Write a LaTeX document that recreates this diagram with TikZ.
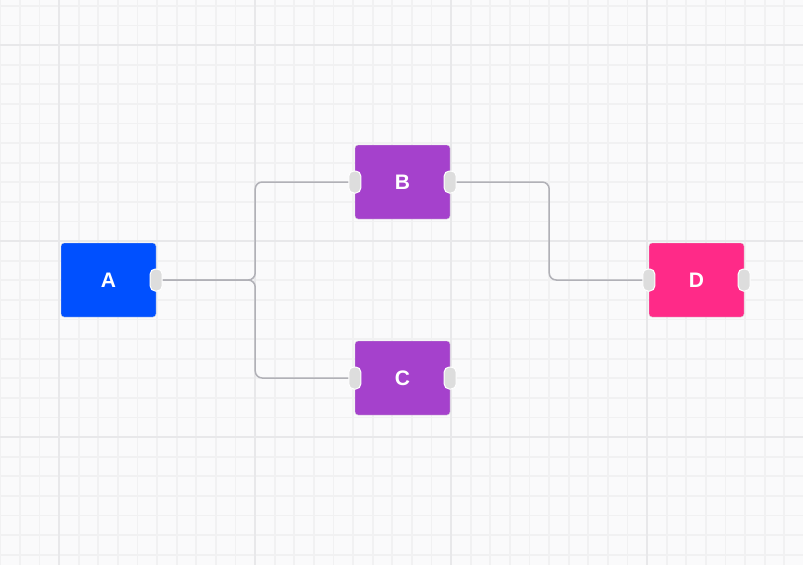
\documentclass[tikz,border=0pt]{standalone}
\usepackage{fontspec}
\setmainfont{Liberation Sans}
\usetikzlibrary{calc}
\definecolor{bgc}{HTML}{FAFAFB}
\definecolor{minorc}{HTML}{F1F1F2}
\definecolor{majorc}{HTML}{E8E8EA}
\definecolor{nodeA}{HTML}{0050FF}
\definecolor{nodeBC}{HTML}{A541CC}
\definecolor{nodeD}{HTML}{FF2A88}
\definecolor{edgec}{HTML}{B1B1B7}
\definecolor{handlec}{HTML}{DDDDDD}
\tikzset{
  flownode/.style={rectangle, rounded corners=3pt, minimum width=95pt, minimum height=74pt, inner sep=0pt, draw=white!85!black, line width=0.4pt, text=white, font=\bfseries\fontsize{21}{23}\selectfont},
  handle/.style={rectangle, rounded corners=5pt, minimum width=12pt, minimum height=22pt, inner sep=0pt, fill=handlec, draw=white, line width=1pt},
  link/.style={draw=edgec, line width=1.5pt, rounded corners=7pt}
}
\begin{document}
\begin{tikzpicture}[x=1pt,y=-1pt]
\useasboundingbox (0,0) rectangle (803,565);
\fill[bgc] (0,0) rectangle (803,565);
% minor grid
\foreach \i in {-3,...,37} {
  \draw[minorc, line width=1.8pt] ({59+19.6*\i},0) -- ({59+19.6*\i},565);
}
\foreach \i in {-3,...,27} {
  \draw[minorc, line width=1.8pt] (0,{45+19.6*\i}) -- (803,{45+19.6*\i});
}
% major grid
\foreach \i in {0,...,3} {
  \draw[majorc, line width=2.8pt] ({59+196*\i},0) -- ({59+196*\i},565);
}
\foreach \i in {0,...,2} {
  \draw[majorc, line width=2.8pt] (0,{45+196*\i}) -- (803,{45+196*\i});
}
% nodes
\node[flownode, fill=nodeA] (A) at (108.5,280) {A};
\node[flownode, fill=nodeBC] (B) at (402.5,182) {B};
\node[flownode, fill=nodeBC] (C) at (402.5,378) {C};
\node[flownode, fill=nodeD] (D) at (696.5,280) {D};
% connectors
\draw[link] (A.east) -- ++(99,0) |- (B.west);
\draw[link] (A.east) -- ++(99,0) |- (C.west);
\draw[link] (B.east) -- ++(99,0) |- (D.west);
% handles
\node[handle] (Ar) at (A.east) {};
\node[handle] (Bl) at (B.west) {};
\node[handle] (Br) at (B.east) {};
\node[handle] (Cl) at (C.west) {};
\node[handle] (Cr) at (C.east) {};
\node[handle] (Dl) at (D.west) {};
\node[handle] (Dr) at (D.east) {};
\end{tikzpicture}
\end{document}
